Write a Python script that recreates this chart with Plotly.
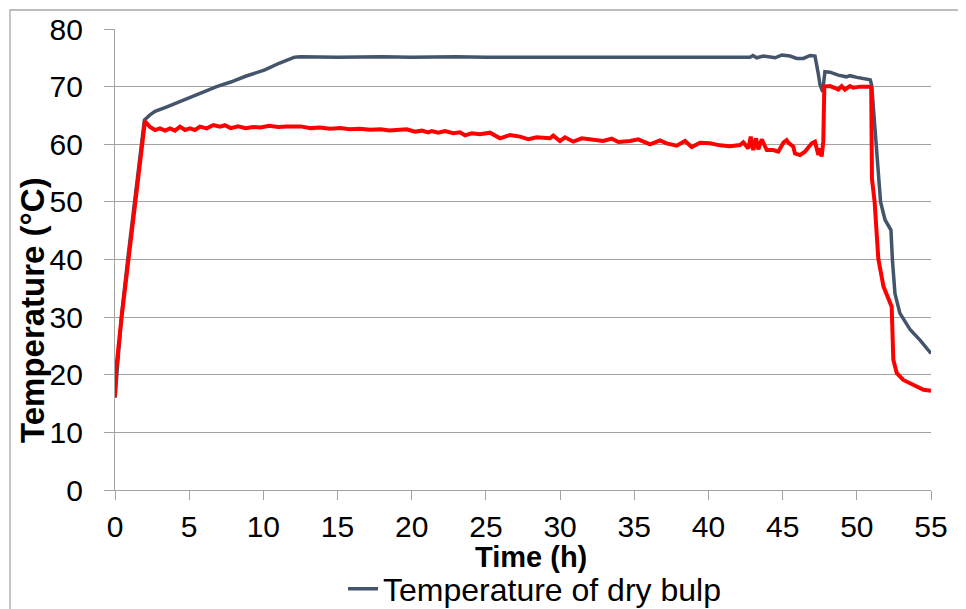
import plotly.graph_objects as go

# ---- data ----
dry_time = [0, 0.45, 0.9, 1.35, 1.65, 1.98, 2.36, 2.7, 3.5, 4.6, 5.7, 6.85, 7.8, 8.8,
            10.1, 11.1, 12.1, 12.5, 15, 18, 20, 23, 25, 28, 30, 33, 35, 38, 40, 42.8,
            43.0, 43.25, 43.7, 44.15, 44.5, 44.95, 45.5, 45.95, 46.4, 46.85, 47.18,
            47.4, 47.52, 47.7, 47.85, 48.19, 48.75, 49.3, 49.54, 50.0, 50.67, 50.9,
            51.0, 51.2, 51.5, 51.6, 51.9, 52.3, 52.4, 52.46, 52.57, 52.9, 53.6,
            54.26, 55.0]
dry_temp = [16.0, 30.5, 41.0, 51.0, 57.8, 64.2, 65.1, 65.7, 66.5, 67.7, 68.8, 70.0,
            70.8, 71.8, 72.9, 74.1, 75.1, 75.2, 75.1, 75.2, 75.1, 75.2, 75.1, 75.1,
            75.2, 75.1, 75.1, 75.2, 75.1, 75.1, 75.4, 75.0, 75.3, 75.2, 75.0, 75.5,
            75.3, 74.9, 74.9, 75.4, 75.3, 72.3, 70.3, 69.1, 72.6, 72.5, 72.0, 71.7,
            71.9, 71.6, 71.4, 71.2, 70.3, 63.0, 53.0, 50.0, 46.9, 45.1, 39.9, 37.0,
            34.1, 30.7, 27.8, 26.0, 23.7]

wet_time = [0, 0.05, 0.45, 0.9, 1.35, 1.69, 2.02, 2.36, 2.70, 3.03, 3.37, 3.71, 4.04,
            4.38, 4.72, 5.06, 5.39, 5.73, 6.18, 6.63, 7.08, 7.4, 7.8, 8.3, 8.8, 9.3,
            9.8, 10.4, 11.0, 11.6, 12.5, 13.2, 13.8, 14.5, 15.2, 15.8, 16.5, 17.2,
            17.9, 18.5, 19.21, 19.66, 20.22, 20.67, 21.12, 21.35, 21.79, 22.24, 22.80,
            23.25, 23.59, 24.04, 24.60, 25.28, 25.95, 26.62, 27.30, 27.86, 28.42,
            29.32, 29.54, 29.99, 30.33, 30.89, 31.46, 32.13, 32.91, 33.48, 33.93,
            34.71, 35.27, 36.06, 36.73, 37.18, 37.86, 38.42, 38.87, 39.43, 40.11,
            40.78, 41.45, 42.13, 42.35, 42.69, 42.85, 43.02, 43.21, 43.36, 43.59,
            43.93, 44.37, 44.71, 45.05, 45.27, 45.38, 45.72, 45.83, 46.17, 46.5,
            46.96, 47.18, 47.41, 47.52, 47.63, 47.74, 47.81, 47.96, 48.19, 48.5,
            48.75, 48.98, 49.2, 49.54, 49.77, 50.22, 50.89, 50.97, 51.02, 51.2,
            51.45, 51.8, 52.2, 52.35, 52.46, 52.69, 53.13, 54.04, 54.5, 55.0]
wet_temp = [16.2, 20.3, 30.1, 40.1, 50.0, 57.3, 64.0, 63.0, 62.47, 62.76, 62.36, 62.76,
            62.36, 63.05, 62.47, 62.76, 62.47, 63.05, 62.76, 63.34, 63.05, 63.3, 62.8,
            63.1, 62.8, 63.0, 62.9, 63.2, 63.0, 63.1, 63.1, 62.8, 62.9, 62.7, 62.8,
            62.6, 62.7, 62.5, 62.6, 62.4, 62.47, 62.59, 62.18, 62.36, 62.07, 62.30,
            62.01, 62.30, 61.90, 62.07, 61.55, 61.90, 61.72, 62.01, 61.03, 61.61,
            61.32, 60.86, 61.20, 61.03, 61.49, 60.56, 61.20, 60.45, 61.03, 60.86,
            60.56, 60.97, 60.39, 60.56, 60.86, 59.99, 60.68, 60.16, 59.75, 60.56,
            59.52, 60.27, 60.16, 59.81, 59.64, 59.87, 60.33, 59.29, 61.32, 59.00,
            61.03, 59.12, 60.86, 59.00, 59.00, 58.71, 60.27, 60.7, 60.27, 59.58,
            58.42, 58.13, 58.71, 60.16, 60.45, 58.13, 59.29, 57.85, 60.45, 70.0,
            70.0, 70.1, 69.8, 69.5, 70.1, 69.5, 70.1, 69.8, 70.0, 70.0, 69.8, 54.0,
            50.0, 40.1, 35.3, 32.4, 31.8, 22.6, 20.3, 19.1, 17.9, 17.4, 17.2]

x_ticks = [0, 5, 10, 15, 20, 25, 30, 35, 40, 45, 50, 55]
y_ticks = [0, 10, 20, 30, 40, 50, 60, 70, 80]

FONT = "Liberation Sans, Arial, sans-serif"
GRID = "#a3a3a3"

fig = go.Figure()
fig.add_trace(go.Scatter(x=dry_time, y=dry_temp, mode="lines",
                         name="Temperature of dry bulp",
                         line=dict(color="#44546a", width=3.5)))
fig.add_trace(go.Scatter(x=wet_time, y=wet_temp, mode="lines",
                         name="Temperature of wet bulb", showlegend=False,
                         line=dict(color="#ff0000", width=4)))

# page body has an 8px margin, so figure px = reference px - 8
fig.update_layout(
    width=958, height=601,
    margin=dict(l=107, r=35, t=21, b=119, autoexpand=False),
    paper_bgcolor="white", plot_bgcolor="white",
    font=dict(family=FONT, color="black"),
    showlegend=True,
    legend=dict(orientation="h", x=0.2794, xanchor="left", y=(490 - 589) / 461,
                yanchor="middle",
                font=dict(size=32, family=FONT, color="black"),
                bgcolor="rgba(0,0,0,0)"),
    xaxis=dict(range=[0, 55], tickvals=x_ticks, showgrid=False, zeroline=False,
               showline=True, linecolor=GRID, linewidth=1.3,
               ticks="outside", ticklen=9, tickcolor=GRID, tickwidth=1.3,
               ticklabelstandoff=1,
               tickfont=dict(size=30, family=FONT, color="black")),
    yaxis=dict(range=[0, 80], tickvals=y_ticks, showgrid=True, gridcolor=GRID,
               gridwidth=1.3, zeroline=False,
               showline=True, linecolor=GRID, linewidth=1.3,
               ticks="outside", ticklen=10, tickcolor=GRID, tickwidth=1.3,
               ticklabelstandoff=15,
               tickfont=dict(size=30, family=FONT, color="black")),
    annotations=[
        dict(text="<b>Time (h)</b>", xref="paper", yref="paper",
             x=(531 - 115) / 816, y=(490 - 557) / 461, showarrow=False,
             xanchor="center", yanchor="middle",
             font=dict(size=29, family=FONT, color="black")),
        dict(text="<b>Temperature (°C)</b>", xref="paper", yref="paper",
             x=(32 - 115) / 816, y=(490 - 310) / 461, showarrow=False,
             xanchor="center", yanchor="middle", textangle=-90,
             font=dict(size=33, family=FONT, color="black")),
    ],
    shapes=[
        dict(type="rect", xref="paper", yref="paper",
             x0=(10 - 115) / 816, x1=(980 - 115) / 816,
             y0=(490 - 10) / 461, y1=(490 - 625) / 461,
             line=dict(color="#a6a6a6", width=1.3), layer="below"),
    ],
)

fig.write_html("out.html")
